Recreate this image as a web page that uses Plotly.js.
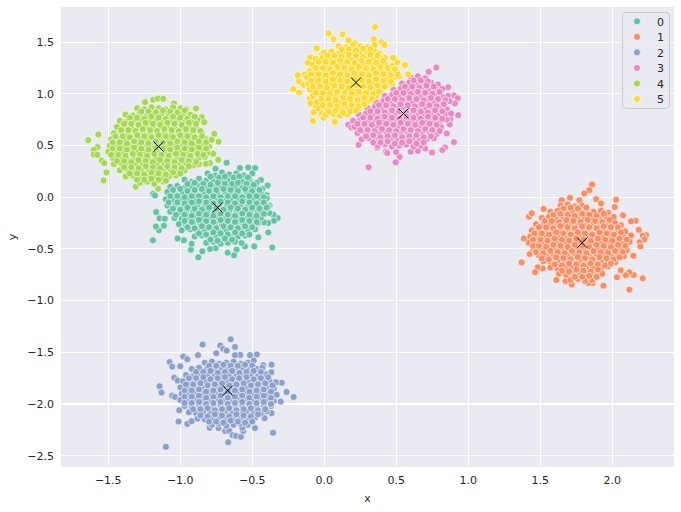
<!DOCTYPE html>
<html><head><meta charset="utf-8">
<script src="https://cdn.plot.ly/plotly-3.0.1.min.js"></script>
<style>html,body{margin:0;padding:0;background:#fff}</style>
</head><body><div id="chart" style="width:681px;height:512px"></div>
<script>
const labels = ["0","1","2","3","4","5"];
const colors = ["#66c2a5","#fc8d62","#8da0cb","#e78ac3","#a6d854","#ffd92f"];
const centerX = [-0.74,1.79,-0.67,0.55,-1.15,0.22];
const centerY = [-0.10,-0.44,-1.87,0.81,0.49,1.11];

const cluster0 = [[-0.678,0.333],[-0.755,0.275],[-0.586,0.282],[-0.528,0.288],[-0.481,0.282],[-0.528,0.169],[-0.44,0.166],[-0.394,0.114],[-0.38,-0.079],[-0.324,-0.201],[-0.354,-0.169],[-0.382,-0.153],[-0.35,-0.227],[-0.389,-0.25],[-0.419,-0.243],[-0.389,-0.34],[-0.361,-0.485],[-0.458,-0.388],[-0.486,-0.475],[-0.551,-0.475],[-0.574,-0.443],[-0.609,-0.507],[-0.627,-0.562],[-0.671,-0.536],[-0.755,-0.494],[-0.794,-0.501],[-0.847,-0.523],[-0.875,-0.581],[-0.926,-0.507],[-0.921,-0.449],[-0.975,-0.417],[-1.019,-0.398],[-1.19,-0.417],[-1.148,-0.32],[-1.169,-0.282],[-1.113,-0.275],[-1.167,-0.143],[-1.144,-0.204],[-1.107,-0.208],[-1.188,0.034],[-1.176,0.018],
[-0.81,0.23],[-0.76,0.21],[-0.71,0.24],[-0.66,0.22],[-0.61,0.23],[-0.56,0.21],[-0.5,0.23],
[-0.97,0.17],[-0.92,0.15],[-0.87,0.18],[-0.82,0.16],[-0.77,0.15],[-0.72,0.17],[-0.67,0.16],[-0.62,0.18],[-0.57,0.15],[-0.52,0.17],[-0.47,0.14],
[-1.07,0.1],[-1.02,0.11],[-0.97,0.09],[-0.92,0.1],[-0.87,0.11],[-0.82,0.09],[-0.77,0.1],[-0.72,0.09],[-0.67,0.11],[-0.62,0.1],[-0.57,0.09],[-0.52,0.11],[-0.47,0.09],[-0.43,0.08],
[-1.09,0.05],[-1.04,0.03],[-0.99,0.05],[-0.94,0.04],[-0.89,0.03],[-0.84,0.05],[-0.79,0.04],[-0.74,0.03],[-0.69,0.05],[-0.64,0.04],[-0.59,0.03],[-0.54,0.05],[-0.49,0.03],[-0.44,0.04],[-0.4,0.02],
[-1.1,-0.02],[-1.05,-0.03],[-1,-0.01],[-0.95,-0.02],[-0.9,-0.03],[-0.85,-0.01],[-0.8,-0.02],[-0.75,-0.03],[-0.7,-0.01],[-0.65,-0.02],[-0.6,-0.03],[-0.55,-0.01],[-0.5,-0.02],[-0.45,-0.03],[-0.4,-0.01],
[-1.09,-0.08],[-1.03,-0.07],[-0.98,-0.09],[-0.93,-0.08],[-0.88,-0.07],[-0.83,-0.09],[-0.78,-0.08],[-0.73,-0.07],[-0.68,-0.09],[-0.63,-0.08],[-0.58,-0.07],[-0.53,-0.09],[-0.48,-0.08],[-0.43,-0.07],[-0.39,-0.09],
[-1.07,-0.14],[-1.01,-0.15],[-0.96,-0.13],[-0.91,-0.14],[-0.86,-0.15],[-0.81,-0.13],[-0.76,-0.14],[-0.71,-0.15],[-0.66,-0.13],[-0.61,-0.14],[-0.56,-0.15],[-0.51,-0.13],[-0.46,-0.14],[-0.41,-0.12],
[-1.04,-0.2],[-0.99,-0.21],[-0.94,-0.19],[-0.89,-0.2],[-0.84,-0.21],[-0.79,-0.19],[-0.74,-0.2],[-0.69,-0.21],[-0.64,-0.19],[-0.59,-0.2],[-0.54,-0.21],[-0.49,-0.19],[-0.44,-0.2],
[-1.01,-0.26],[-0.96,-0.27],[-0.91,-0.25],[-0.86,-0.26],[-0.81,-0.27],[-0.76,-0.25],[-0.71,-0.26],[-0.66,-0.27],[-0.61,-0.25],[-0.56,-0.26],[-0.51,-0.27],[-0.46,-0.25],
[-0.99,-0.32],[-0.93,-0.31],[-0.88,-0.33],[-0.83,-0.32],[-0.78,-0.31],[-0.73,-0.33],[-0.68,-0.32],[-0.63,-0.31],[-0.58,-0.33],[-0.53,-0.32],[-0.48,-0.31],
[-0.9,-0.38],[-0.85,-0.37],[-0.8,-0.39],[-0.75,-0.38],[-0.7,-0.37],[-0.65,-0.39],[-0.6,-0.38],[-0.55,-0.37],
[-0.82,-0.44],[-0.77,-0.43],[-0.72,-0.45],[-0.67,-0.44],[-0.62,-0.43],
[-0.79,0.2],[-0.73,0.19],[-0.69,0.2],[-0.63,0.19],[-0.59,0.2],[-0.53,0.19],[-0.95,0.13],[-0.9,0.14],[-0.84,0.13],[-0.79,0.12],[-0.74,0.14],[-0.69,0.13],[-0.64,0.13],[-0.6,0.14],[-0.54,0.13],[-0.49,0.12],[-1.05,0.07],[-1,0.08],[-0.95,0.06],[-0.9,0.07],[-0.85,0.08],[-0.8,0.06],[-0.75,0.07],[-0.7,0.08],[-0.65,0.07],[-0.6,0.06],[-0.55,0.08],[-0.5,0.06],[-0.45,0.07],[-1.07,0.01],[-1.02,0.01],[-0.97,0],[-0.92,0.01],[-0.87,0.01],[-0.82,0],[-0.77,0.01],[-0.72,0],[-0.67,0.01],[-0.62,0.01],[-0.57,0],[-0.52,0.01],[-0.47,0.01],[-0.42,0],[-1.08,-0.05],[-1.02,-0.05],[-0.97,-0.06],[-0.92,-0.05],[-0.87,-0.04],[-0.82,-0.05],[-0.77,-0.06],[-0.72,-0.04],[-0.67,-0.05],[-0.62,-0.06],[-0.57,-0.04],[-0.52,-0.05],[-0.47,-0.06],[-0.42,-0.05],[-1.05,-0.11],[-1,-0.12],[-0.95,-0.1],[-0.9,-0.11],[-0.85,-0.12],[-0.8,-0.1],[-0.75,-0.11],[-0.7,-0.12],[-0.65,-0.1],[-0.6,-0.11],[-0.55,-0.12],[-0.5,-0.1],[-0.45,-0.11],[-0.4,-0.1],[-1.03,-0.17],[-0.97,-0.17],[-0.92,-0.18],[-0.87,-0.16],[-0.82,-0.17],[-0.77,-0.18],[-0.72,-0.16],[-0.67,-0.17],[-0.62,-0.18],[-0.57,-0.16],[-0.52,-0.17],[-0.47,-0.18],[-0.42,-0.16],[-0.97,-0.23],[-0.92,-0.24],[-0.87,-0.22],[-0.82,-0.23],[-0.77,-0.24],[-0.72,-0.22],[-0.67,-0.23],[-0.62,-0.24],[-0.57,-0.22],[-0.52,-0.23],[-0.47,-0.24],[-0.95,-0.29],[-0.9,-0.3],[-0.85,-0.28],[-0.8,-0.29],[-0.75,-0.3],[-0.7,-0.28],[-0.65,-0.29],[-0.6,-0.3],[-0.55,-0.28],[-0.5,-0.29],[-0.87,-0.35],[-0.82,-0.36],[-0.77,-0.34],[-0.72,-0.35],[-0.67,-0.36],[-0.62,-0.34],[-0.57,-0.35],[-0.52,-0.36],[-0.79,-0.41],[-0.74,-0.42],[-0.69,-0.4],[-0.64,-0.41]];

const cluster1 = [[1.859,0.124],[1.84,0.069],[1.805,0.037],[1.887,-0.018],[2.026,-0.024],[2.016,-0.095],[1.921,-0.06],[2.074,-0.175],[2.162,-0.227],[2.13,-0.233],[2.183,-0.314],[2.234,-0.366],[2.211,-0.372],[2.222,-0.407],[2.19,-0.436],[2.194,-0.475],[2.146,-0.565],[2.211,-0.784],[2.118,-0.894],[2.148,-0.752],[2.118,-0.726],[2.093,-0.755],[2.032,-0.774],[2.058,-0.707],[1.938,-0.855],[1.863,-0.83],[1.833,-0.83],[1.718,-0.845],[1.674,-0.81],[1.611,-0.8],[1.516,-0.688],[1.482,-0.678],[1.463,-0.726],[1.37,-0.63],[1.426,-0.549],[1.386,-0.398],[1.421,-0.188],[1.44,-0.156],[1.523,-0.114],[1.648,-0.03],[1.706,-0.005],[1.771,-0.03],
[1.64,-0.08],[1.69,-0.07],[1.74,-0.09],[1.79,-0.08],
[1.57,-0.14],[1.62,-0.13],[1.67,-0.15],[1.72,-0.14],[1.77,-0.13],[1.82,-0.15],[1.87,-0.14],[1.92,-0.13],[1.97,-0.15],
[1.51,-0.2],[1.56,-0.19],[1.61,-0.21],[1.66,-0.2],[1.71,-0.19],[1.76,-0.21],[1.81,-0.2],[1.86,-0.19],[1.91,-0.21],[1.96,-0.2],[2.01,-0.19],
[1.47,-0.26],[1.52,-0.27],[1.57,-0.25],[1.62,-0.26],[1.67,-0.27],[1.72,-0.25],[1.77,-0.26],[1.82,-0.27],[1.87,-0.25],[1.92,-0.26],[1.97,-0.27],[2.02,-0.25],[2.06,-0.27],
[1.44,-0.32],[1.49,-0.33],[1.54,-0.31],[1.59,-0.32],[1.64,-0.33],[1.69,-0.31],[1.74,-0.32],[1.79,-0.33],[1.84,-0.31],[1.89,-0.32],[1.94,-0.33],[1.99,-0.31],[2.04,-0.32],[2.09,-0.33],
[1.43,-0.38],[1.48,-0.39],[1.53,-0.37],[1.58,-0.38],[1.63,-0.39],[1.68,-0.37],[1.73,-0.38],[1.78,-0.39],[1.83,-0.37],[1.88,-0.38],[1.93,-0.39],[1.98,-0.37],[2.03,-0.38],[2.08,-0.39],[2.13,-0.37],
[1.42,-0.44],[1.47,-0.45],[1.52,-0.43],[1.57,-0.44],[1.62,-0.45],[1.67,-0.43],[1.72,-0.44],[1.77,-0.45],[1.82,-0.43],[1.87,-0.44],[1.92,-0.45],[1.97,-0.43],[2.02,-0.44],[2.07,-0.45],[2.12,-0.43],
[1.45,-0.5],[1.5,-0.51],[1.55,-0.49],[1.6,-0.5],[1.65,-0.51],[1.7,-0.49],[1.75,-0.5],[1.8,-0.51],[1.85,-0.49],[1.9,-0.5],[1.95,-0.51],[2,-0.49],[2.05,-0.5],[2.1,-0.51],
[1.49,-0.56],[1.54,-0.57],[1.59,-0.55],[1.64,-0.56],[1.69,-0.57],[1.74,-0.55],[1.79,-0.56],[1.84,-0.57],[1.89,-0.55],[1.94,-0.56],[1.99,-0.57],[2.04,-0.55],[2.08,-0.57],
[1.52,-0.62],[1.57,-0.63],[1.62,-0.61],[1.67,-0.62],[1.72,-0.63],[1.77,-0.61],[1.82,-0.62],[1.87,-0.63],[1.92,-0.61],[1.97,-0.62],[2.02,-0.63],
[1.57,-0.68],[1.62,-0.69],[1.67,-0.67],[1.72,-0.68],[1.77,-0.69],[1.82,-0.67],[1.87,-0.68],[1.92,-0.69],[1.97,-0.67],
[1.63,-0.74],[1.68,-0.75],[1.73,-0.73],[1.78,-0.74],[1.83,-0.75],[1.88,-0.73],[1.93,-0.74],
[1.71,-0.8],[1.76,-0.79],[1.81,-0.81],[1.86,-0.8],
[1.66,-0.11],[1.71,-0.1],[1.76,-0.11],[1.82,-0.1],[1.59,-0.17],[1.64,-0.16],[1.69,-0.17],[1.74,-0.18],[1.79,-0.16],[1.84,-0.17],[1.89,-0.18],[1.94,-0.16],[1.53,-0.23],[1.58,-0.23],[1.63,-0.24],[1.68,-0.22],[1.73,-0.23],[1.78,-0.24],[1.83,-0.22],[1.88,-0.23],[1.93,-0.24],[1.98,-0.22],[1.49,-0.29],[1.54,-0.29],[1.59,-0.3],[1.64,-0.28],[1.69,-0.29],[1.74,-0.3],[1.79,-0.28],[1.84,-0.29],[1.89,-0.3],[1.94,-0.28],[1.99,-0.29],[2.04,-0.29],[1.46,-0.35],[1.51,-0.35],[1.56,-0.36],[1.61,-0.34],[1.66,-0.35],[1.71,-0.36],[1.76,-0.34],[1.81,-0.35],[1.86,-0.36],[1.91,-0.34],[1.96,-0.35],[2.01,-0.36],[2.06,-0.34],[1.45,-0.41],[1.5,-0.41],[1.55,-0.42],[1.6,-0.4],[1.65,-0.41],[1.7,-0.42],[1.75,-0.4],[1.8,-0.41],[1.85,-0.42],[1.9,-0.4],[1.95,-0.41],[2,-0.42],[2.05,-0.4],[2.1,-0.41],[1.45,-0.47],[1.49,-0.47],[1.54,-0.48],[1.59,-0.46],[1.64,-0.47],[1.69,-0.48],[1.74,-0.46],[1.79,-0.47],[1.84,-0.48],[1.89,-0.46],[1.94,-0.47],[1.99,-0.48],[2.04,-0.46],[2.09,-0.47],[1.47,-0.53],[1.52,-0.54],[1.57,-0.52],[1.62,-0.53],[1.67,-0.54],[1.72,-0.52],[1.77,-0.53],[1.82,-0.54],[1.87,-0.52],[1.92,-0.53],[1.97,-0.54],[2.02,-0.52],[2.07,-0.53],[1.51,-0.59],[1.56,-0.6],[1.61,-0.58],[1.66,-0.59],[1.71,-0.6],[1.76,-0.58],[1.81,-0.59],[1.86,-0.6],[1.91,-0.58],[1.96,-0.59],[2.01,-0.6],[2.05,-0.58],[1.6,-0.65],[1.65,-0.66],[1.7,-0.64],[1.75,-0.65],[1.8,-0.66],[1.85,-0.64],[1.9,-0.65],[1.95,-0.66],[1.99,-0.64],[1.65,-0.71],[1.7,-0.72],[1.75,-0.7],[1.8,-0.71],[1.85,-0.72],[1.9,-0.7],[1.74,-0.77],[1.79,-0.77],[1.84,-0.76],[1.89,-0.77]];

const cluster2 = [[-0.65,-1.374],[-0.845,-1.425],[-0.722,-1.435],[-0.701,-1.467],[-0.678,-1.483],[-0.62,-1.448],[-0.979,-1.541],[-0.877,-1.528],[-1.074,-1.593],[-1.056,-1.638],[-0.951,-1.567],[-1,-1.635],[-1.144,-1.828],[-1.13,-1.889],[-1.056,-1.918],[-1.037,-1.931],[-1.042,-1.747],[-1.019,-1.773],[-1.007,-2.06],[-1.012,-2.169],[-0.951,-2.192],[-0.921,-2.166],[-1.1,-2.414],[-0.796,-2.23],[-0.734,-2.233],[-0.688,-2.262],[-0.66,-2.259],[-0.637,-2.301],[-0.613,-2.308],[-0.579,-2.317],[-0.667,-2.369],[-0.563,-2.262],[-0.569,-2.23],[-0.481,-2.233],[-0.356,-2.278],[-0.414,-2.137],[-0.366,-2.088],[-0.303,-1.976],[-0.262,-1.883],[-0.213,-1.931],[-0.296,-1.795],[-0.336,-1.789],[-0.366,-1.619],[-0.424,-1.625],[-0.468,-1.52],[-0.516,-1.528],[-0.583,-1.525],[-0.62,-1.528],[-0.75,-1.508],[-0.368,-1.693],
[-0.83,-1.6],[-0.78,-1.59],[-0.73,-1.61],[-0.68,-1.6],[-0.63,-1.59],[-0.58,-1.61],[-0.53,-1.6],[-0.49,-1.58],
[-0.92,-1.66],[-0.87,-1.65],[-0.82,-1.67],[-0.77,-1.66],[-0.72,-1.65],[-0.67,-1.67],[-0.62,-1.66],[-0.57,-1.65],[-0.52,-1.67],[-0.47,-1.66],[-0.43,-1.65],
[-0.96,-1.72],[-0.91,-1.73],[-0.86,-1.71],[-0.81,-1.72],[-0.76,-1.73],[-0.71,-1.71],[-0.66,-1.72],[-0.61,-1.73],[-0.56,-1.71],[-0.51,-1.72],[-0.46,-1.73],[-0.41,-1.71],
[-0.98,-1.78],[-0.93,-1.79],[-0.88,-1.77],[-0.83,-1.78],[-0.78,-1.79],[-0.73,-1.77],[-0.68,-1.78],[-0.63,-1.79],[-0.58,-1.77],[-0.53,-1.78],[-0.48,-1.79],[-0.43,-1.77],[-0.38,-1.78],
[-1,-1.84],[-0.95,-1.85],[-0.9,-1.83],[-0.85,-1.84],[-0.8,-1.85],[-0.75,-1.83],[-0.7,-1.84],[-0.65,-1.85],[-0.6,-1.83],[-0.55,-1.84],[-0.5,-1.85],[-0.45,-1.83],[-0.4,-1.84],[-0.35,-1.85],
[-0.99,-1.9],[-0.94,-1.91],[-0.89,-1.89],[-0.84,-1.9],[-0.79,-1.91],[-0.74,-1.89],[-0.69,-1.9],[-0.64,-1.91],[-0.59,-1.89],[-0.54,-1.9],[-0.49,-1.91],[-0.44,-1.89],[-0.39,-1.9],[-0.33,-1.91],
[-1,-1.96],[-0.95,-1.97],[-0.9,-1.95],[-0.85,-1.96],[-0.8,-1.97],[-0.75,-1.95],[-0.7,-1.96],[-0.65,-1.97],[-0.6,-1.95],[-0.55,-1.96],[-0.5,-1.97],[-0.45,-1.95],[-0.4,-1.96],[-0.35,-1.97],
[-0.97,-2.02],[-0.92,-2.03],[-0.87,-2.01],[-0.82,-2.02],[-0.77,-2.03],[-0.72,-2.01],[-0.67,-2.02],[-0.62,-2.03],[-0.57,-2.01],[-0.52,-2.02],[-0.47,-2.03],[-0.42,-2.01],[-0.37,-2.02],
[-0.94,-2.08],[-0.89,-2.09],[-0.84,-2.07],[-0.79,-2.08],[-0.74,-2.09],[-0.69,-2.07],[-0.64,-2.08],[-0.59,-2.09],[-0.54,-2.07],[-0.49,-2.08],[-0.44,-2.09],[-0.4,-2.07],
[-0.88,-2.14],[-0.83,-2.15],[-0.78,-2.13],[-0.73,-2.14],[-0.68,-2.15],[-0.63,-2.13],[-0.58,-2.14],[-0.53,-2.15],[-0.48,-2.13],
[-0.78,-2.2],[-0.73,-2.19],[-0.68,-2.21],[-0.63,-2.2],[-0.58,-2.19],[-0.53,-2.2],
[-0.8,-1.63],[-0.75,-1.63],[-0.7,-1.62],[-0.65,-1.63],[-0.6,-1.63],[-0.55,-1.62],[-0.5,-1.63],[-0.89,-1.69],[-0.84,-1.69],[-0.79,-1.68],[-0.74,-1.7],[-0.69,-1.69],[-0.64,-1.68],[-0.59,-1.7],[-0.54,-1.69],[-0.49,-1.68],[-0.44,-1.69],[-0.94,-1.75],[-0.89,-1.75],[-0.84,-1.74],[-0.79,-1.76],[-0.74,-1.75],[-0.69,-1.74],[-0.64,-1.76],[-0.59,-1.75],[-0.54,-1.74],[-0.49,-1.76],[-0.44,-1.75],[-0.39,-1.74],[-0.96,-1.81],[-0.91,-1.81],[-0.86,-1.8],[-0.81,-1.82],[-0.76,-1.81],[-0.71,-1.8],[-0.66,-1.82],[-0.61,-1.81],[-0.56,-1.8],[-0.51,-1.82],[-0.46,-1.81],[-0.41,-1.8],[-0.36,-1.82],[-0.97,-1.87],[-0.92,-1.87],[-0.87,-1.86],[-0.82,-1.88],[-0.77,-1.87],[-0.72,-1.86],[-0.67,-1.88],[-0.62,-1.87],[-0.57,-1.86],[-0.52,-1.88],[-0.47,-1.87],[-0.42,-1.86],[-0.37,-1.88],[-0.97,-1.93],[-0.92,-1.93],[-0.87,-1.92],[-0.82,-1.94],[-0.77,-1.93],[-0.72,-1.92],[-0.67,-1.94],[-0.62,-1.93],[-0.57,-1.92],[-0.52,-1.94],[-0.47,-1.93],[-0.42,-1.92],[-0.37,-1.94],[-0.97,-1.99],[-0.92,-1.99],[-0.87,-1.98],[-0.82,-2],[-0.77,-1.99],[-0.72,-1.98],[-0.67,-2],[-0.62,-1.99],[-0.57,-1.98],[-0.52,-2],[-0.47,-1.99],[-0.42,-1.98],[-0.37,-2],[-0.91,-2.05],[-0.86,-2.05],[-0.81,-2.04],[-0.76,-2.06],[-0.71,-2.05],[-0.66,-2.04],[-0.61,-2.06],[-0.56,-2.05],[-0.51,-2.04],[-0.46,-2.06],[-0.41,-2.05],[-0.86,-2.11],[-0.81,-2.12],[-0.76,-2.1],[-0.71,-2.11],[-0.66,-2.12],[-0.61,-2.1],[-0.56,-2.11],[-0.51,-2.12],[-0.46,-2.1],[-0.8,-2.17],[-0.75,-2.17],[-0.7,-2.18],[-0.65,-2.16],[-0.6,-2.17],[-0.55,-2.18],[-0.5,-2.17]];

const cluster3 = [[0.778,1.254],[0.725,1.213],[0.859,1.064],[0.9,0.984],[0.926,0.958],[0.907,0.907],[0.931,0.794],[0.875,0.755],[0.87,0.704],[0.85,0.617],[0.9,0.533],[0.838,0.481],[0.819,0.456],[0.748,0.433],[0.701,0.472],[0.65,0.449],[0.6,0.44],[0.523,0.391],[0.495,0.337],[0.308,0.291],[0.238,0.507],[0.368,0.481],[0.428,0.443],[0.437,0.427],[0.167,0.7],[0.188,0.675],[0.498,0.437],
[0.6,1.16],[0.65,1.17],[0.7,1.15],
[0.54,1.1],[0.59,1.11],[0.64,1.09],[0.69,1.1],[0.74,1.11],[0.79,1.09],
[0.48,1.04],[0.53,1.05],[0.58,1.03],[0.63,1.04],[0.68,1.05],[0.73,1.03],[0.78,1.04],[0.82,1.05],
[0.42,0.98],[0.47,0.99],[0.52,0.97],[0.57,0.98],[0.62,0.99],[0.67,0.97],[0.72,0.98],[0.77,0.99],[0.82,0.97],[0.86,0.98],
[0.36,0.92],[0.41,0.93],[0.46,0.91],[0.51,0.92],[0.56,0.93],[0.61,0.91],[0.66,0.92],[0.71,0.93],[0.76,0.91],[0.81,0.92],[0.87,0.93],
[0.3,0.86],[0.35,0.87],[0.4,0.85],[0.45,0.86],[0.5,0.87],[0.55,0.85],[0.6,0.86],[0.65,0.87],[0.7,0.85],[0.75,0.86],[0.8,0.87],[0.85,0.85],
[0.24,0.8],[0.29,0.81],[0.34,0.79],[0.39,0.8],[0.44,0.81],[0.49,0.79],[0.54,0.8],[0.59,0.81],[0.64,0.79],[0.69,0.8],[0.74,0.81],[0.79,0.79],[0.84,0.8],[0.88,0.81],
[0.2,0.74],[0.25,0.75],[0.3,0.73],[0.35,0.74],[0.4,0.75],[0.45,0.73],[0.5,0.74],[0.55,0.75],[0.6,0.73],[0.65,0.74],[0.7,0.75],[0.75,0.73],[0.8,0.74],[0.85,0.75],
[0.21,0.68],[0.26,0.69],[0.31,0.67],[0.36,0.68],[0.41,0.69],[0.46,0.67],[0.51,0.68],[0.56,0.69],[0.61,0.67],[0.66,0.68],[0.71,0.69],[0.76,0.67],[0.81,0.68],
[0.23,0.62],[0.28,0.63],[0.33,0.61],[0.38,0.62],[0.43,0.63],[0.48,0.61],[0.53,0.62],[0.58,0.63],[0.63,0.61],[0.68,0.62],[0.73,0.63],[0.78,0.61],
[0.26,0.56],[0.31,0.57],[0.36,0.55],[0.41,0.56],[0.46,0.57],[0.51,0.55],[0.56,0.56],[0.61,0.57],[0.66,0.55],[0.71,0.56],[0.76,0.57],
[0.37,0.5],[0.42,0.51],[0.47,0.49],[0.52,0.5],[0.57,0.51],[0.62,0.49],[0.67,0.5],
[0.62,1.13],[0.67,1.13],[0.72,1.12],[0.56,1.07],[0.61,1.07],[0.66,1.06],[0.71,1.08],[0.76,1.07],[0.5,1.01],[0.55,1.01],[0.6,1],[0.65,1.02],[0.7,1.01],[0.75,1],[0.8,1.02],[0.44,0.95],[0.49,0.95],[0.54,0.94],[0.59,0.96],[0.64,0.95],[0.69,0.94],[0.74,0.96],[0.79,0.95],[0.84,0.94],[0.38,0.89],[0.43,0.89],[0.48,0.88],[0.53,0.9],[0.58,0.89],[0.63,0.88],[0.68,0.9],[0.73,0.89],[0.78,0.88],[0.83,0.9],[0.32,0.83],[0.37,0.83],[0.42,0.82],[0.47,0.84],[0.52,0.83],[0.57,0.82],[0.62,0.84],[0.67,0.83],[0.72,0.82],[0.77,0.84],[0.82,0.83],[0.27,0.77],[0.32,0.77],[0.37,0.76],[0.42,0.78],[0.47,0.77],[0.52,0.76],[0.57,0.78],[0.62,0.77],[0.67,0.76],[0.72,0.78],[0.77,0.77],[0.82,0.76],[0.23,0.71],[0.28,0.71],[0.33,0.7],[0.38,0.72],[0.43,0.71],[0.48,0.7],[0.53,0.72],[0.58,0.71],[0.63,0.7],[0.68,0.72],[0.73,0.71],[0.78,0.7],[0.25,0.65],[0.3,0.65],[0.35,0.64],[0.4,0.66],[0.45,0.65],[0.5,0.64],[0.55,0.66],[0.6,0.65],[0.65,0.64],[0.7,0.66],[0.75,0.65],[0.8,0.64],[0.29,0.59],[0.34,0.6],[0.39,0.58],[0.44,0.59],[0.49,0.6],[0.54,0.58],[0.59,0.59],[0.64,0.6],[0.69,0.58],[0.74,0.59],[0.34,0.53],[0.39,0.53],[0.44,0.54],[0.49,0.52],[0.54,0.53],[0.59,0.54],[0.64,0.52],[0.69,0.53]];

const cluster4 = [[-1.639,0.552],[-1.569,0.607],[-1.574,0.485],[-1.6,0.459],[-1.6,0.414],[-1.576,0.411],[-1.546,0.356],[-1.528,0.33],[-1.512,0.24],[-1.532,0.163],[-1.31,0.101],[-1.245,0.92],[-1.188,0.942],[-1.155,0.955],[-1.118,0.952],[-1.044,0.907],[-0.891,0.858],[-0.85,0.775],[-0.833,0.726],[-0.764,0.614],[-0.734,0.536],[-0.782,0.556],[-0.771,0.42],[-0.736,0.362],[-0.794,0.33],[-0.822,0.324],[-1.153,0.082],[-1.118,0.153],
[-1.3,0.86],[-1.25,0.85],[-1.2,0.87],[-1.15,0.86],[-1.1,0.85],[-1.05,0.87],[-1,0.86],[-0.96,0.85],
[-1.38,0.8],[-1.33,0.79],[-1.28,0.81],[-1.23,0.8],[-1.18,0.79],[-1.13,0.81],[-1.08,0.8],[-1.03,0.79],[-0.98,0.81],[-0.93,0.8],
[-1.42,0.74],[-1.37,0.73],[-1.32,0.75],[-1.27,0.74],[-1.22,0.73],[-1.17,0.75],[-1.12,0.74],[-1.07,0.73],[-1.02,0.75],[-0.97,0.74],[-0.92,0.73],[-0.88,0.75],
[-1.44,0.68],[-1.39,0.69],[-1.34,0.67],[-1.29,0.68],[-1.24,0.69],[-1.19,0.67],[-1.14,0.68],[-1.09,0.69],[-1.04,0.67],[-0.99,0.68],[-0.94,0.69],[-0.89,0.67],
[-1.46,0.62],[-1.41,0.63],[-1.36,0.61],[-1.31,0.62],[-1.26,0.63],[-1.21,0.61],[-1.16,0.62],[-1.11,0.63],[-1.06,0.61],[-1.01,0.62],[-0.96,0.63],[-0.91,0.61],[-0.85,0.62],
[-1.48,0.56],[-1.43,0.57],[-1.38,0.55],[-1.33,0.56],[-1.28,0.57],[-1.23,0.55],[-1.18,0.56],[-1.13,0.57],[-1.08,0.55],[-1.03,0.56],[-0.98,0.57],[-0.93,0.55],[-0.88,0.56],[-0.83,0.57],
[-1.49,0.5],[-1.44,0.51],[-1.39,0.49],[-1.34,0.5],[-1.29,0.51],[-1.24,0.49],[-1.19,0.5],[-1.14,0.51],[-1.09,0.49],[-1.04,0.5],[-0.99,0.51],[-0.94,0.49],[-0.89,0.5],[-0.84,0.51],[-0.8,0.49],
[-1.5,0.44],[-1.45,0.45],[-1.4,0.43],[-1.35,0.44],[-1.3,0.45],[-1.25,0.43],[-1.2,0.44],[-1.15,0.45],[-1.1,0.43],[-1.05,0.44],[-1,0.45],[-0.95,0.43],[-0.9,0.44],[-0.85,0.45],[-0.81,0.43],
[-1.47,0.38],[-1.42,0.39],[-1.37,0.37],[-1.32,0.38],[-1.27,0.39],[-1.22,0.37],[-1.17,0.38],[-1.12,0.39],[-1.07,0.37],[-1.02,0.38],[-0.97,0.39],[-0.92,0.37],[-0.87,0.38],[-0.83,0.39],
[-1.46,0.32],[-1.41,0.33],[-1.36,0.31],[-1.31,0.32],[-1.26,0.33],[-1.21,0.31],[-1.16,0.32],[-1.11,0.33],[-1.06,0.31],[-1.01,0.32],[-0.96,0.33],[-0.91,0.31],[-0.87,0.32],
[-1.42,0.26],[-1.37,0.27],[-1.32,0.25],[-1.27,0.26],[-1.22,0.27],[-1.17,0.25],[-1.12,0.26],[-1.07,0.27],[-1.02,0.25],[-0.97,0.26],
[-1.38,0.2],[-1.33,0.21],[-1.28,0.19],[-1.23,0.2],[-1.18,0.21],[-1.13,0.19],[-1.08,0.2],[-1.03,0.21],
[-1.28,0.14],[-1.23,0.15],[-1.18,0.13],
[-1.27,0.83],[-1.22,0.83],[-1.17,0.82],[-1.12,0.84],[-1.07,0.83],[-1.02,0.82],[-0.97,0.84],[-1.35,0.77],[-1.3,0.77],[-1.25,0.76],[-1.2,0.78],[-1.15,0.77],[-1.1,0.76],[-1.05,0.78],[-1,0.77],[-0.95,0.76],[-0.9,0.78],[-1.39,0.71],[-1.34,0.71],[-1.29,0.7],[-1.24,0.72],[-1.19,0.71],[-1.14,0.7],[-1.09,0.72],[-1.04,0.71],[-0.99,0.7],[-0.94,0.72],[-0.89,0.71],[-1.41,0.65],[-1.36,0.65],[-1.31,0.64],[-1.26,0.66],[-1.21,0.65],[-1.16,0.64],[-1.11,0.66],[-1.06,0.65],[-1.01,0.64],[-0.96,0.66],[-0.91,0.65],[-0.86,0.64],[-1.45,0.59],[-1.4,0.59],[-1.35,0.58],[-1.3,0.6],[-1.25,0.59],[-1.2,0.58],[-1.15,0.6],[-1.1,0.59],[-1.05,0.58],[-1,0.6],[-0.95,0.59],[-0.9,0.58],[-0.85,0.59],[-1.47,0.53],[-1.42,0.53],[-1.37,0.52],[-1.32,0.54],[-1.27,0.53],[-1.22,0.52],[-1.17,0.54],[-1.12,0.53],[-1.07,0.52],[-1.02,0.54],[-0.97,0.53],[-0.92,0.52],[-0.87,0.54],[-0.82,0.53],[-1.47,0.47],[-1.42,0.47],[-1.37,0.46],[-1.32,0.48],[-1.27,0.47],[-1.22,0.46],[-1.17,0.48],[-1.12,0.47],[-1.07,0.46],[-1.02,0.48],[-0.97,0.47],[-0.92,0.46],[-0.87,0.48],[-0.82,0.47],[-1.48,0.41],[-1.43,0.41],[-1.38,0.4],[-1.33,0.42],[-1.28,0.41],[-1.23,0.4],[-1.18,0.42],[-1.13,0.41],[-1.08,0.4],[-1.03,0.42],[-0.98,0.41],[-0.93,0.4],[-0.88,0.42],[-0.84,0.41],[-1.44,0.35],[-1.39,0.35],[-1.34,0.34],[-1.29,0.36],[-1.24,0.35],[-1.19,0.34],[-1.14,0.36],[-1.09,0.35],[-1.04,0.34],[-0.99,0.36],[-0.94,0.35],[-0.89,0.34],[-1.39,0.29],[-1.34,0.29],[-1.29,0.28],[-1.24,0.3],[-1.19,0.29],[-1.14,0.28],[-1.09,0.3],[-1.04,0.29],[-0.99,0.28],[-0.94,0.3],[-1.35,0.23],[-1.3,0.23],[-1.25,0.22],[-1.2,0.24],[-1.15,0.23],[-1.1,0.22],[-1.05,0.24],[-1,0.23],[-1.3,0.17],[-1.25,0.17],[-1.2,0.18],[-1.15,0.17],[-1.1,0.16]];

const cluster5 = [[0.352,1.647],[0.03,1.586],[0.127,1.576],[0.065,1.528],[0.167,1.518],[0.343,1.528],[0.211,1.49],[0.398,1.499],[0.417,1.473],[-0.053,1.441],[-0.014,1.383],[-0.097,1.354],[-0.116,1.3],[-0.185,1.181],[-0.134,1.187],[-0.176,1.119],[-0.144,1.087],[-0.215,1.045],[-0.174,1.013],[-0.1,0.958],[-0.097,0.907],[-0.06,0.878],[-0.074,0.823],[-0.019,0.81],[-0.005,0.768],[-0.079,0.739],[0.063,0.797],[0.072,0.729],[0.583,1.19],[0.56,1.28],[0.507,1.306],[0.477,1.348],[0.421,1.348],
[0.1,1.46],[0.15,1.45],[0.2,1.47],[0.25,1.46],[0.3,1.45],[0.35,1.47],
[0,1.4],[0.05,1.41],[0.1,1.39],[0.15,1.4],[0.2,1.41],[0.25,1.39],[0.3,1.4],[0.35,1.41],[0.38,1.39],
[-0.06,1.34],[-0.01,1.35],[0.04,1.33],[0.09,1.34],[0.14,1.35],[0.19,1.33],[0.24,1.34],[0.29,1.35],[0.34,1.33],[0.39,1.34],
[-0.08,1.28],[-0.03,1.29],[0.02,1.27],[0.07,1.28],[0.12,1.29],[0.17,1.27],[0.22,1.28],[0.27,1.29],[0.32,1.27],[0.37,1.28],[0.42,1.29],[0.47,1.27],
[-0.1,1.22],[-0.05,1.23],[0,1.21],[0.05,1.22],[0.1,1.23],[0.15,1.21],[0.2,1.22],[0.25,1.23],[0.3,1.21],[0.35,1.22],[0.4,1.23],[0.45,1.21],[0.5,1.22],
[-0.12,1.16],[-0.07,1.17],[-0.02,1.15],[0.03,1.16],[0.08,1.17],[0.13,1.15],[0.18,1.16],[0.23,1.17],[0.28,1.15],[0.33,1.16],[0.38,1.17],[0.43,1.15],[0.48,1.16],[0.52,1.17],
[-0.11,1.1],[-0.06,1.11],[-0.01,1.09],[0.04,1.1],[0.09,1.11],[0.14,1.09],[0.19,1.1],[0.24,1.11],[0.29,1.09],[0.34,1.1],[0.39,1.11],[0.44,1.09],[0.47,1.1],
[-0.1,1.04],[-0.05,1.05],[0,1.03],[0.05,1.04],[0.1,1.05],[0.15,1.03],[0.2,1.04],[0.25,1.05],[0.3,1.03],[0.35,1.04],[0.4,1.05],
[-0.08,0.98],[-0.03,0.99],[0.02,0.97],[0.07,0.98],[0.12,0.99],[0.17,0.97],[0.22,0.98],[0.27,0.99],[0.32,0.97],[0.36,0.98],
[-0.05,0.92],[0,0.93],[0.05,0.91],[0.1,0.92],[0.15,0.93],[0.2,0.91],[0.25,0.92],[0.3,0.93],
[-0.04,0.86],[0.01,0.87],[0.06,0.85],[0.11,0.86],[0.16,0.87],[0.21,0.85],[0.24,0.86],
[0.01,0.8],[0.06,0.81],[0.11,0.79],[0.16,0.8],
[0.12,1.43],[0.17,1.43],[0.22,1.42],[0.27,1.44],[0.32,1.43],[0.02,1.37],[0.07,1.37],[0.12,1.36],[0.17,1.38],[0.22,1.37],[0.27,1.36],[0.32,1.38],[0.37,1.37],[-0.04,1.31],[0.01,1.31],[0.06,1.3],[0.11,1.32],[0.16,1.31],[0.21,1.3],[0.26,1.32],[0.31,1.31],[0.36,1.3],[0.41,1.32],[-0.06,1.25],[-0.01,1.25],[0.04,1.24],[0.09,1.26],[0.14,1.25],[0.19,1.24],[0.24,1.26],[0.29,1.25],[0.34,1.24],[0.39,1.26],[0.44,1.25],[0.49,1.24],[-0.09,1.19],[-0.04,1.19],[0.01,1.18],[0.06,1.2],[0.11,1.19],[0.16,1.18],[0.21,1.2],[0.26,1.19],[0.31,1.18],[0.36,1.2],[0.41,1.19],[0.46,1.18],[0.51,1.19],[-0.09,1.13],[-0.04,1.13],[0.01,1.12],[0.06,1.14],[0.11,1.13],[0.16,1.12],[0.21,1.14],[0.26,1.13],[0.31,1.12],[0.36,1.14],[0.41,1.13],[0.46,1.12],[-0.08,1.07],[-0.03,1.07],[0.02,1.06],[0.07,1.08],[0.12,1.07],[0.17,1.06],[0.22,1.08],[0.27,1.07],[0.32,1.06],[0.37,1.08],[0.42,1.07],[-0.06,1.01],[-0.01,1.01],[0.04,1],[0.09,1.02],[0.14,1.01],[0.19,1],[0.24,1.02],[0.29,1.01],[0.34,1],[0.38,1.02],[-0.02,0.95],[0.03,0.95],[0.08,0.94],[0.13,0.96],[0.18,0.95],[0.23,0.94],[0.28,0.96],[0.33,0.95],[-0.01,0.89],[0.04,0.89],[0.09,0.88],[0.14,0.9],[0.19,0.89],[0.24,0.88],[0.28,0.9],[0.03,0.83],[0.08,0.84],[0.13,0.82],[0.18,0.83],[0.22,0.84]];

const clusters = [cluster0,cluster1,cluster2,cluster3,cluster4,cluster5];
const traces = clusters.map((pts,i)=>({
  type:"scatter",mode:"markers",name:labels[i],
  x:pts.map(p=>p[0]),y:pts.map(p=>p[1]),
  marker:{color:colors[i],size:7,line:{color:"#ffffff",width:0.6}}
}));
traces.push({type:"scatter",mode:"markers",x:centerX,y:centerY,showlegend:false,hoverinfo:"skip",
  marker:{symbol:"x-thin",size:10,color:"#000000",line:{color:"#000000",width:1}}});
const textColor="#262626";
Plotly.newPlot("chart",traces,{
  width:681,height:512,
  margin:{l:61,r:7,t:7,b:44.5,pad:0},
  paper_bgcolor:"#ffffff",plot_bgcolor:"#eaeaf2",
  font:{family:"DejaVu Sans",size:11,color:textColor},
  xaxis:{range:[-1.828,2.428],dtick:0.5,tick0:0,tickformat:".1f",gridcolor:"#ffffff",gridwidth:1.1,zeroline:false,showline:false,ticks:"",ticklabelstandoff:5,
    tickfont:{size:11,color:textColor},title:{text:"x",font:{size:11,color:textColor},standoff:8}},
  yaxis:{range:[-2.609,1.84],dtick:0.5,tick0:0,tickformat:".1f",gridcolor:"#ffffff",gridwidth:1.1,zeroline:false,showline:false,ticks:"",ticklabelstandoff:6,
    tickfont:{size:11,color:textColor},title:{text:"y",font:{size:11,color:textColor},standoff:8}},
  legend:{x:0.9935,y:0.987,xanchor:"right",yanchor:"top",bgcolor:"rgba(234,234,242,0.8)",bordercolor:"#cccccc",borderwidth:1,
    font:{size:11,color:textColor},tracegroupgap:0}
},{displayModeBar:false,staticPlot:true}).then(()=>{
  const leg=document.querySelector(".legend");
  const m=/translate\(([-\d.]+)[ ,]+([-\d.]+)\)/.exec(leg.getAttribute("transform"));
  const lx=+m[1],ly=+m[2];
  const bg=leg.querySelector("rect.bg");
  bg.setAttribute("x",622.7-lx);bg.setAttribute("y",12.7-ly);
  bg.setAttribute("width",46.3);bg.setAttribute("height",95.4);
  bg.setAttribute("rx",2.5);bg.setAttribute("ry",2.5);
  leg.querySelectorAll(".traces").forEach((t,k)=>{
    const tm=/translate\(([-\d.]+)/.exec(t.getAttribute("transform"));
    t.setAttribute("transform","translate("+tm[1]+","+(21.3+15.53*k-ly)+")");
  });
});
</script></body></html>
